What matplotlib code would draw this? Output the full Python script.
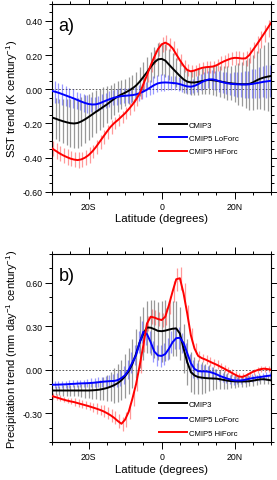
import numpy as np
import matplotlib
matplotlib.use("Agg")
import matplotlib.pyplot as plt
from matplotlib.ticker import MultipleLocator, FuncFormatter

plt.rcParams['font.family'] = ['Liberation Sans', 'DejaVu Sans']
plt.rcParams['mathtext.fontset'] = 'custom'
plt.rcParams['mathtext.rm'] = 'Liberation Sans'
plt.rcParams['mathtext.it'] = 'Liberation Sans:italic'

# latitude grid (degrees, -30 .. 30 every 1 degree)
lat = np.arange(-30, 31)

# ---- panel a: SST trend (K / century) ----
sst_cmip3 = [-0.165, -0.172, -0.180, -0.187, -0.193, -0.198, -0.200, -0.197, -0.188, -0.176,
             -0.162, -0.147, -0.132, -0.118, -0.103, -0.089, -0.072, -0.056, -0.042, -0.030,
             -0.020, -0.008, 0.005, 0.022, 0.045, 0.072, 0.100, 0.130, 0.157, 0.175,
             0.178, 0.168, 0.145, 0.122, 0.100, 0.078, 0.058, 0.045, 0.040, 0.040,
             0.043, 0.048, 0.052, 0.055, 0.053, 0.050, 0.046, 0.042, 0.038, 0.035,
             0.033, 0.031, 0.030, 0.030, 0.031, 0.040, 0.052, 0.062, 0.069, 0.074, 0.078]
sst_lo = [-0.010, -0.015, -0.022, -0.030, -0.038, -0.046, -0.054, -0.063, -0.072, -0.080,
          -0.086, -0.089, -0.088, -0.082, -0.073, -0.064, -0.056, -0.049, -0.044, -0.040,
          -0.038, -0.036, -0.034, -0.030, -0.022, -0.013, -0.002, 0.012, 0.025, 0.035,
          0.039, 0.040, 0.039, 0.037, 0.035, 0.030, 0.023, 0.017, 0.015, 0.020,
          0.030, 0.042, 0.052, 0.058, 0.058, 0.053, 0.046, 0.040, 0.035, 0.032,
          0.030, 0.029, 0.028, 0.028, 0.029, 0.032, 0.036, 0.040, 0.044, 0.047, 0.050]
sst_hi = [-0.346, -0.360, -0.374, -0.386, -0.396, -0.405, -0.411, -0.414, -0.410, -0.400,
          -0.385, -0.364, -0.338, -0.308, -0.278, -0.248, -0.220, -0.198, -0.180, -0.160,
          -0.140, -0.116, -0.090, -0.060, -0.024, 0.030, 0.084, 0.140, 0.190, 0.235,
          0.263, 0.273, 0.262, 0.240, 0.205, 0.170, 0.138, 0.113, 0.105, 0.110,
          0.118, 0.125, 0.129, 0.131, 0.133, 0.140, 0.152, 0.163, 0.172, 0.180,
          0.184, 0.183, 0.180, 0.181, 0.200, 0.230, 0.260, 0.292, 0.324, 0.357, 0.390]
sst_cmip3_sd = [0.12, 0.12, 0.125, 0.13, 0.135, 0.14, 0.145, 0.145, 0.145, 0.14,
                0.135, 0.13, 0.125, 0.12, 0.115, 0.11, 0.10, 0.095, 0.09, 0.085,
                0.08, 0.08, 0.08, 0.08, 0.085, 0.085, 0.09, 0.09, 0.09, 0.095,
                0.095, 0.095, 0.09, 0.09, 0.085, 0.08, 0.08, 0.075, 0.075, 0.075,
                0.075, 0.075, 0.08, 0.08, 0.085, 0.09, 0.09, 0.095, 0.10, 0.10,
                0.11, 0.12, 0.13, 0.14, 0.15, 0.16, 0.17, 0.18, 0.19, 0.20, 0.22]
sst_lo_sd = [0.065, 0.065, 0.06, 0.06, 0.06, 0.055, 0.055, 0.05, 0.05, 0.05,
             0.05, 0.045, 0.045, 0.045, 0.045, 0.045, 0.045, 0.045, 0.045, 0.045,
             0.045, 0.045, 0.045, 0.045, 0.045, 0.045, 0.045, 0.045, 0.05, 0.05,
             0.05, 0.05, 0.045, 0.04, 0.04, 0.04, 0.04, 0.04, 0.04, 0.04,
             0.045, 0.045, 0.05, 0.05, 0.055, 0.055, 0.06, 0.06, 0.065, 0.065,
             0.07, 0.075, 0.075, 0.08, 0.08, 0.085, 0.085, 0.09, 0.09, 0.095, 0.095]
sst_hi_sd = [0.045, 0.045, 0.045, 0.045, 0.045, 0.045, 0.045, 0.045, 0.045, 0.045,
             0.045, 0.04, 0.04, 0.04, 0.04, 0.04, 0.04, 0.035, 0.035, 0.035,
             0.035, 0.035, 0.035, 0.035, 0.035, 0.04, 0.04, 0.04, 0.04, 0.04,
             0.045, 0.045, 0.04, 0.04, 0.035, 0.035, 0.035, 0.035, 0.035, 0.035,
             0.035, 0.035, 0.035, 0.035, 0.035, 0.035, 0.04, 0.04, 0.04, 0.04,
             0.04, 0.04, 0.04, 0.045, 0.045, 0.045, 0.05, 0.05, 0.05, 0.05, 0.05]

# ---- panel b: precipitation trend (mm / day / century) ----
pr_cmip3 = [-0.144, -0.144, -0.144, -0.144, -0.144, -0.144, -0.144, -0.144, -0.144, -0.144,
            -0.144, -0.143, -0.141, -0.138, -0.133, -0.127, -0.118, -0.107, -0.093, -0.073,
            -0.045, -0.010, 0.040, 0.110, 0.190, 0.250, 0.292, 0.290, 0.280, 0.268,
            0.266, 0.270, 0.277, 0.283, 0.285, 0.250, 0.146, 0.053, -0.016, -0.040,
            -0.051, -0.055, -0.058, -0.060, -0.061, -0.062, -0.066, -0.071, -0.076, -0.079,
            -0.081, -0.082, -0.082, -0.081, -0.080, -0.076, -0.071, -0.067, -0.066, -0.070, -0.074]
pr_lo = [-0.104, -0.104, -0.103, -0.102, -0.101, -0.099, -0.098, -0.096, -0.095, -0.094,
         -0.093, -0.091, -0.089, -0.086, -0.083, -0.081, -0.079, -0.078, -0.072, -0.058,
         -0.038, 0.000, 0.050, 0.100, 0.190, 0.262, 0.245, 0.190, 0.125, 0.098,
         0.095, 0.108, 0.145, 0.190, 0.218, 0.220, 0.185, 0.115, 0.045, 0.005,
         -0.010, -0.012, -0.012, -0.015, -0.022, -0.032, -0.044, -0.053, -0.062, -0.069,
         -0.074, -0.075, -0.074, -0.069, -0.063, -0.058, -0.054, -0.051, -0.047, -0.043, -0.040]
pr_hi = [-0.183, -0.190, -0.198, -0.206, -0.213, -0.219, -0.224, -0.231, -0.238, -0.245,
         -0.252, -0.260, -0.268, -0.277, -0.287, -0.300, -0.315, -0.333, -0.355, -0.374,
         -0.345, -0.290, -0.200, -0.100, 0.030, 0.170, 0.320, 0.366, 0.360, 0.350,
         0.343, 0.366, 0.447, 0.540, 0.625, 0.632, 0.528, 0.390, 0.238, 0.146,
         0.095, 0.080, 0.070, 0.058, 0.046, 0.035, 0.022, 0.009, -0.005, -0.019,
         -0.033, -0.046, -0.050, -0.042, -0.028, -0.015, -0.005, 0.003, 0.007, 0.004, 0.000]
pr_cmip3_sd = [0.03, 0.03, 0.03, 0.035, 0.035, 0.04, 0.04, 0.04, 0.045, 0.05,
               0.055, 0.06, 0.065, 0.07, 0.08, 0.09, 0.10, 0.12, 0.13, 0.14,
               0.15, 0.16, 0.17, 0.17, 0.18, 0.18, 0.18, 0.19, 0.20, 0.20,
               0.21, 0.21, 0.20, 0.19, 0.19, 0.18, 0.17, 0.16, 0.14, 0.13,
               0.12, 0.11, 0.10, 0.09, 0.08, 0.07, 0.065, 0.06, 0.055, 0.05,
               0.045, 0.04, 0.04, 0.04, 0.035, 0.035, 0.035, 0.03, 0.03, 0.03, 0.03]
pr_lo_sd = [0.025, 0.025, 0.025, 0.025, 0.025, 0.025, 0.025, 0.025, 0.025, 0.025,
            0.03, 0.03, 0.03, 0.035, 0.035, 0.04, 0.04, 0.045, 0.05, 0.055,
            0.06, 0.065, 0.07, 0.07, 0.075, 0.075, 0.075, 0.075, 0.075, 0.075,
            0.075, 0.075, 0.075, 0.075, 0.075, 0.075, 0.07, 0.07, 0.065, 0.06,
            0.055, 0.05, 0.045, 0.04, 0.04, 0.035, 0.035, 0.03, 0.03, 0.03,
            0.03, 0.025, 0.025, 0.025, 0.025, 0.025, 0.025, 0.025, 0.025, 0.025, 0.025]
pr_hi_sd = [0.02, 0.02, 0.02, 0.02, 0.02, 0.02, 0.025, 0.025, 0.025, 0.03,
            0.03, 0.03, 0.035, 0.035, 0.04, 0.04, 0.045, 0.045, 0.05, 0.05,
            0.05, 0.05, 0.05, 0.05, 0.05, 0.05, 0.05, 0.05, 0.05, 0.05,
            0.05, 0.06, 0.06, 0.07, 0.08, 0.08, 0.07, 0.06, 0.05, 0.04,
            0.035, 0.03, 0.03, 0.03, 0.03, 0.03, 0.025, 0.025, 0.025, 0.025,
            0.025, 0.025, 0.025, 0.02, 0.02, 0.02, 0.02, 0.02, 0.02, 0.02, 0.02]

labels = ["CMIP3", "CMIP5 LoForc", "CMIP5 HiForc"]
colors = ["black", "#0000ff", "#ff0000"]
offsets = [0.0, -0.3, 0.3]

fig = plt.figure(figsize=(2.77, 4.81), dpi=100)
ax_a = fig.add_axes([0.188, 0.599, 0.791, 0.391])
ax_b = fig.add_axes([0.188, 0.079, 0.791, 0.391])

hyphen = FuncFormatter(lambda v, p: "%.2f" % v if abs(v) > 1e-9 else "0.00")
latfmt = FuncFormatter(lambda v, p: "0" if v == 0 else ("%dS" % -v if v < 0 else "%dN" % v))

panels = [
    (ax_a, [sst_cmip3, sst_lo, sst_hi], [sst_cmip3_sd, sst_lo_sd, sst_hi_sd],
     (-0.6, 0.5), 0.2, 0.05, "SST trend (K century$^{-1}$)", "a)", (0.49, 0.375), 0.75),
    (ax_b, [pr_cmip3, pr_lo, pr_hi], [pr_cmip3_sd, pr_lo_sd, pr_hi_sd],
     (-0.5, 0.8), 0.3, 0.1, "Precipitation trend (mm day$^{-1}$ century$^{-1}$)", "b)", (0.49, 0.22), 0.9),
]

for ax, means, sds, ylim, major, minor, ylabel, tag, leg_pos, lsp in panels:
    ax.axhline(0, color="#444444", lw=0.6, ls=(0, (2, 2)), zorder=1)
    # spread bars
    for m, s, c, off in zip(means, sds, colors, offsets):
        m = np.array(m)
        s = np.array(s)
        bar_c = "#808080" if c == "black" else c
        ax.vlines(lat + off, m - s, m + s, color=bar_c, alpha=0.8 if c == "black" else 0.4,
                  lw=0.9, zorder=2)
    for m, c, lab in zip(means, colors, labels):
        ax.plot(lat, m, color=c, lw=1.4, label=lab, zorder=3)

    ax.set_xlim(-30, 30)
    ax.set_ylim(*ylim)
    ax.xaxis.set_major_locator(MultipleLocator(20))
    ax.xaxis.set_minor_locator(MultipleLocator(5))
    ax.yaxis.set_major_locator(MultipleLocator(major))
    ax.yaxis.set_minor_locator(MultipleLocator(minor))
    ax.xaxis.set_major_formatter(latfmt)
    ax.yaxis.set_major_formatter(hyphen)
    ax.tick_params(which="both", direction="out", top=True, right=True,
                   labelsize=6.3, pad=2, width=0.7)
    ax.tick_params(which="major", length=5)
    ax.tick_params(which="minor", length=2.5)
    for sp in ax.spines.values():
        sp.set_linewidth(0.8)
    ax.set_xlabel("Latitude (degrees)", fontsize=8.2, labelpad=2)
    ax.set_ylabel(ylabel, fontsize=8.0, labelpad=2)
    ax.text(0.03, 0.93, tag, transform=ax.transAxes, fontsize=13, va="top", ha="left")
    ax.legend(loc="upper left", bbox_to_anchor=leg_pos, frameon=False, fontsize=5.6,
              handlelength=3.6, handletextpad=0.15, labelspacing=lsp, borderpad=0,
              borderaxespad=0)

fig.savefig("out.png", dpi=100)
